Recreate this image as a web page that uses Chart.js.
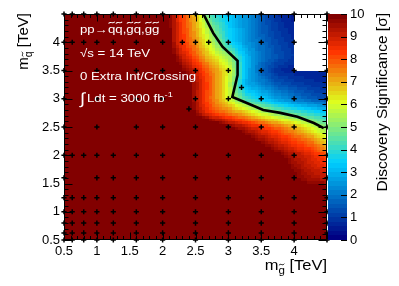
<!DOCTYPE html>
<html>
<head>
<meta charset="utf-8">
<script src="https://cdn.jsdelivr.net/npm/chart.js@4.4.1/dist/chart.umd.min.js"></script>
<style>
  html, body { margin: 0; padding: 0; background: #fff; }
</style>
</head>
<body>
<canvas id="signif" width="399" height="286"></canvas>
<script>
// nodes of the significance map (TeV): gluino mass along x, squark mass along y
const massGluino = [0.5, 1.0, 1.6, 2.0, 2.25, 2.5, 2.75, 3.0, 3.25, 3.5, 3.75, 4.0, 4.25, 4.5];
const massSquark = [0.5, 1.0, 1.6, 2.0, 2.25, 2.5, 2.75, 3.0, 3.25, 3.5, 3.75, 4.0, 4.25, 4.5];

// discovery significance per squark row (>10 saturates)
const sigQ050 = [12, 12, 12, 12, 12, 12, 12, 12, 12, 12, 12, 12, 12, 12];
const sigQ100 = [12, 12, 12, 12, 12, 12, 12, 12, 12, 12, 12, 12, 12, 12];
const sigQ160 = [12, 12, 12, 12, 12, 12, 12, 12, 12, 12, 11, 10.0, 9.4, 9.2];
const sigQ200 = [12, 12, 12, 12, 12, 12, 12, 12, 12, 11, 10.0, 9.3, 8.7, 8.0];
const sigQ225 = [12, 12, 12, 12, 12, 12, 12, 12, 10.5, 9.6, 8.9, 8.2, 7.6, 6.5];
const sigQ250 = [12, 12, 12, 12, 12, 12, 11, 10.0, 9.2, 8.5, 7.8, 7.0, 6.0, 5.0];
const sigQ275 = [12, 12, 12, 12, 12, 9.6, 8.2, 7.6, 6.8, 5.8, 5.0, 4.4, 3.9, 3.4];
const sigQ300 = [12, 12, 12, 12, 12, 9.3, 7.6, 6.0, 4.2, 3.4, 2.6, 2.0, 1.6, 1.3];
const sigQ325 = [12, 12, 12, 12, 11, 9.4, 7.8, 5.8, 3.0, 2.3, 1.5, 1.2, 0.9, 0.8];
const sigQ350 = [12, 12, 12, 12, 10.2, 9.0, 7.5, 6.2, 3.3, 1.6, 0.8, 0.6, 0.6, 0.6];
const sigQ375 = [12, 12, 12, 11.5, 9.3, 7.9, 6.4, 5.4, 3.2, 2.0, 1.4, 1.0, 0.6, 0.6];
const sigQ400 = [12, 12, 12, 11, 8.7, 7.3, 5.6, 3.7, 2.6, 1.8, 1.2, 0.8, 0.6, 0.6];
const sigQ425 = [12, 12, 12, 11, 8.6, 7.0, 5.0, 3.5, 2.5, 1.6, 1.0, 0.6, 0.6, 0.6];
const sigQ450 = [12, 12, 12, 11, 8.5, 6.8, 4.0, 3.3, 2.5, 1.5, 0.8, 0.5, 0.5, 0.5];
const sigRows = [sigQ050, sigQ100, sigQ160, sigQ200, sigQ225, sigQ250, sigQ275,
                 sigQ300, sigQ325, sigQ350, sigQ375, sigQ400, sigQ425, sigQ450];

// corner with no result (left white)
const emptyGluino = [4.0, 4.5];
const emptySquark = [3.5, 4.5];

// simulated signal points
const scanFull = [0.5, 0.625, 0.8, 1.0, 1.25, 1.6, 2.0, 2.5, 3.0, 3.5, 4.0, 4.5];
const scanCoarse = [0.5, 1.0, 1.6, 2.0, 2.5, 3.0, 3.5, 4.0, 4.5];
const scanSquark = [0.5, 0.625, 0.8, 1.0, 1.25, 1.6, 2.0, 2.5, 3.0, 3.5, 4.0, 4.5];
const scanGluino = [scanFull, scanFull, scanFull, scanFull, scanFull,
  [0.5, 1.0, 1.25, 1.6, 2.0, 2.5, 3.0, 3.5, 4.0, 4.5],
  scanFull, scanCoarse, scanCoarse, scanCoarse,
  [0.5, 0.625, 0.8, 1.0, 1.25, 1.6, 2.0, 2.3, 2.5, 2.7, 3.0, 3.5, 4.0, 4.5],
  scanFull];
const extraGluino = [3.2, 2.4];
const extraSquark = [3.2, 2.82];

// 5 sigma contour
const contourGluino = [2.62, 2.77, 2.91, 3.14, 3.14, 3.06, 3.29, 3.53, 3.79, 4.05, 4.30, 4.45];
const contourSquark = [4.50, 4.16, 3.92, 3.67, 3.42, 3.03, 2.92, 2.80, 2.75, 2.68, 2.57, 2.48];

const xTickValues = [0.5, 1, 1.5, 2, 2.5, 3, 3.5, 4];
const yTickValues = [0.5, 1, 1.5, 2, 2.5, 3, 3.5, 4];
const zTickValues = [0, 1, 2, 3, 4, 5, 6, 7, 8, 9, 10];

// ROOT style rainbow palette
const palStops = [0.00, 0.34, 0.61, 0.84, 1.00];
const palRed   = [0.00, 0.00, 0.87, 1.00, 0.51];
const palGreen = [0.00, 0.81, 1.00, 0.20, 0.00];
const palBlue  = [0.51, 1.00, 0.12, 0.00, 0.00];
const nLevels = 50;
const zMax = 10;

const FONT = "'Liberation Sans', Arial, Helvetica, sans-serif";

function paletteColour(t) {
  let i = 0;
  while (i < palStops.length - 2 && t > palStops[i + 1]) i++;
  const f = (t - palStops[i]) / (palStops[i + 1] - palStops[i]);
  const c = arr => Math.round(255 * (arr[i] + f * (arr[i + 1] - arr[i])));
  return 'rgb(' + c(palRed) + ',' + c(palGreen) + ',' + c(palBlue) + ')';
}
const levelColours = [];
for (let k = 0; k < nLevels; k++) levelColours.push(paletteColour(k / (nLevels - 1)));

function colourFor(v) {
  let k = Math.floor(v / zMax * nLevels);
  k = Math.max(0, Math.min(nLevels - 1, k));
  return levelColours[k];
}

function findCell(arr, v) {
  for (let i = 0; i < arr.length - 2; i++) if (v < arr[i + 1]) return i;
  return arr.length - 2;
}

function significanceAt(mg, mq) {
  const i = findCell(massGluino, mg), j = findCell(massSquark, mq);
  const fx = (mg - massGluino[i]) / (massGluino[i + 1] - massGluino[i]);
  const fy = (mq - massSquark[j]) / (massSquark[j + 1] - massSquark[j]);
  const r0 = sigRows[j], r1 = sigRows[j + 1];
  return (1 - fx) * (1 - fy) * r0[i] + fx * (1 - fy) * r0[i + 1] +
         (1 - fx) * fy * r1[i] + fx * fy * r1[i + 1];
}

// text made of runs (sub/superscripts, tilde accents); sx stretches along the text
function drawRuns(ctx, runs, x, y, opts) {
  const sx = opts.sx || 1;
  const colour = opts.colour || '#000';
  ctx.save();
  ctx.translate(x, y);
  if (opts.rotate) ctx.rotate(opts.rotate);
  let total = 0;
  runs.forEach(r => {
    ctx.font = r.size + 'px ' + FONT;
    r.w = ctx.measureText(r.text).width * sx;
    total += r.w;
  });
  let cx = opts.alignEnd ? -total : 0;
  ctx.fillStyle = colour;
  ctx.strokeStyle = colour;
  ctx.textBaseline = 'alphabetic';
  runs.forEach(r => {
    ctx.save();
    ctx.translate(cx, r.dy || 0);
    ctx.scale(sx, 1);
    ctx.font = r.size + 'px ' + FONT;
    ctx.fillText(r.text, 0, 0);
    (r.tilde || []).forEach(i => {
      const x0 = ctx.measureText(r.text.slice(0, i)).width;
      const w = ctx.measureText(r.text[i]).width;
      const yc = -0.9 * r.size, amp = 0.08 * r.size;
      ctx.beginPath();
      ctx.moveTo(x0 + 0.08 * w, yc + amp);
      ctx.bezierCurveTo(x0 + 0.4 * w, yc - 2.2 * amp, x0 + 0.6 * w, yc + 2.2 * amp, x0 + 0.92 * w, yc - amp);
      ctx.lineWidth = Math.max(0.9, 0.085 * r.size);
      ctx.stroke();
    });
    ctx.restore();
    cx += r.w;
  });
  ctx.restore();
}

const mapLayer = {
  id: 'mapLayer',
  beforeDatasetsDraw(chart) {
    const {ctx, scales: {x, y}} = chart;
    const step = 0.05;
    const n = Math.round((x.max - x.min) / step), m = Math.round((y.max - y.min) / step);
    ctx.save();
    for (let i = 0; i < n; i++) {
      const g0 = x.min + i * step;
      const px0 = Math.round(x.getPixelForValue(g0));
      const px1 = Math.round(x.getPixelForValue(g0 + step));
      const gc = g0 + step / 2;
      for (let j = 0; j < m; j++) {
        const q0 = y.min + j * step;
        const qc = q0 + step / 2;
        if (gc > emptyGluino[0] && gc < emptyGluino[1] && qc > emptySquark[0] && qc < emptySquark[1]) continue;
        const py0 = Math.round(y.getPixelForValue(q0 + step));
        const py1 = Math.round(y.getPixelForValue(q0));
        ctx.fillStyle = colourFor(significanceAt(gc, qc));
        ctx.fillRect(px0, py0, px1 - px0, py1 - py0);
      }
    }
    ctx.restore();
  },
  afterDatasetsDraw(chart) {
    const {ctx, chartArea: a, scales: {x, y, z}} = chart;
    ctx.save();

    // colour bar
    const barL = Math.round(a.right) + 1, barR = barL + 19;
    for (let k = 0; k < nLevels; k++) {
      const v0 = k * zMax / nLevels, v1 = (k + 1) * zMax / nLevels;
      const p0 = Math.round(z.getPixelForValue(v0)), p1 = Math.round(z.getPixelForValue(v1));
      ctx.fillStyle = levelColours[k];
      ctx.fillRect(barL, p1, barR - barL, p0 - p1);
    }
    ctx.strokeStyle = '#000';
    ctx.lineWidth = 1;
    ctx.beginPath();
    zTickValues.forEach(v => {
      const p = Math.round(z.getPixelForValue(v)) + 0.5;
      ctx.moveTo(barR, p);
      ctx.lineTo(barR - 6, p);
    });
    ctx.stroke();

    // frame with ROOT style inward ticks on all four sides
    const L = Math.round(a.left) + 0.5, R = Math.round(a.right) - 0.5;
    const T = Math.round(a.top) + 0.5, B = Math.round(a.bottom) - 0.5;
    ctx.beginPath();
    ctx.rect(L, T, R - L, B - T);
    for (let k = 0; k <= 40; k++) {
      const v = 0.5 + k * 0.1;
      const major = k % 5 === 0;
      const px = Math.round(x.getPixelForValue(v)) + 0.5;
      const lx = major ? 7 : 3.5;
      ctx.moveTo(px, B); ctx.lineTo(px, B - lx);
      ctx.moveTo(px, T); ctx.lineTo(px, T + lx);
      const py = Math.round(y.getPixelForValue(v)) + 0.5;
      const ly = major ? 8 : 4;
      ctx.moveTo(L, py); ctx.lineTo(L + ly, py);
      ctx.moveTo(R, py); ctx.lineTo(R - ly, py);
    }
    ctx.stroke();

    // process labels
    const white = {colour: '#fff', sx: 1.15};
    drawRuns(ctx, [{text: 'pp\u2192qq,gq,gg', size: 11.5, tilde: [3, 4, 6, 7, 9, 10]}], 80, 33, white);
    drawRuns(ctx, [{text: '\u221as = 14 TeV', size: 11.5}], 80, 57, white);
    drawRuns(ctx, [{text: '0 Extra Int/Crossing', size: 11.5}], 80, 80, white);
    drawRuns(ctx, [{text: '\u222b', size: 16}], 80, 104, white);
    drawRuns(ctx, [{text: 'Ldt = 3000 fb', size: 11.5}, {text: '-1', size: 8, dy: -5}], 87, 102, white);

    // axis titles
    drawRuns(ctx, [{text: 'm', size: 15}, {text: 'g', size: 10.5, dy: 4, tilde: [0]}, {text: ' [TeV]', size: 15}],
      Math.round(a.right), 270, {alignEnd: true, sx: 1.1});
    drawRuns(ctx, [{text: 'm', size: 15}, {text: 'q', size: 10.5, dy: 4, tilde: [0]}, {text: ' [TeV]', size: 15}],
      28, Math.round(a.top) - 1, {alignEnd: true, rotate: -Math.PI / 2});
    drawRuns(ctx, [{text: 'Discovery Significance [\u03c3]', size: 15.5}],
      387, Math.round(a.top) - 1, {alignEnd: true, rotate: -Math.PI / 2});
    ctx.restore();
  }
};

const points = [];
scanSquark.forEach((mq, j) => scanGluino[j].forEach(mg => points.push({x: mg, y: mq})));
extraGluino.forEach((mg, i) => points.push({x: mg, y: extraSquark[i]}));
const contour = contourGluino.map((mg, i) => ({x: mg, y: contourSquark[i]}));

const tickFont = {family: FONT, size: 13};

new Chart(document.getElementById('signif'), {
  type: 'scatter',
  data: {
    datasets: [
      {
        label: '5 sigma',
        data: contour,
        showLine: true,
        borderColor: '#000',
        borderWidth: 2.6,
        pointRadius: 0,
        tension: 0,
        order: 0,
      },
      {
        label: 'signal points',
        data: points,
        pointStyle: 'cross',
        pointRadius: 2.6,
        borderColor: '#000',
        backgroundColor: '#000',
        borderWidth: 1.5,
        clip: false,
        order: 1,
      },
    ]
  },
  options: {
    responsive: false,
    animation: false,
    layout: { padding: 0 },
    plugins: {
      legend: { display: false },
      tooltip: { enabled: false },
    },
    scales: {
      x: {
        type: 'linear', min: 0.5, max: 4.5,
        grid: { display: false, drawTicks: false },
        border: { display: false },
        ticks: { font: tickFont, color: '#000', padding: 4, maxRotation: 0, autoSkip: false,
                 callback: v => String(v) },
        afterBuildTicks: s => { s.ticks = xTickValues.map(v => ({value: v})); },
        afterFit: s => { s.height = 46; },
      },
      xTop: {
        axis: 'x', type: 'linear', position: 'top', min: 0.5, max: 4.5,
        grid: { display: false, drawTicks: false },
        border: { display: false },
        ticks: { display: false },
        afterFit: s => { s.height = 14; },
      },
      y: {
        type: 'linear', min: 0.5, max: 4.5,
        grid: { display: false, drawTicks: false },
        border: { display: false },
        ticks: { font: tickFont, color: '#000', padding: 4, autoSkip: false,
                 callback: v => String(v) },
        afterBuildTicks: s => { s.ticks = yTickValues.map(v => ({value: v})); },
        afterFit: s => { s.width = 64; },
      },
      z: {
        axis: 'y', type: 'linear', position: 'right', min: 0, max: zMax,
        // tick marks are not drawn, their length only moves the labels clear of the colour bar
        grid: { display: false, drawTicks: true, tickLength: 20 },
        border: { display: false },
        ticks: { font: tickFont, color: '#000', padding: 3, autoSkip: false,
                 callback: v => String(v) },
        afterBuildTicks: s => { s.ticks = zTickValues.map(v => ({value: v})); },
        afterFit: s => { s.width = 72; },
      },
    }
  },
  plugins: [mapLayer]
});
</script>
</body>
</html>
